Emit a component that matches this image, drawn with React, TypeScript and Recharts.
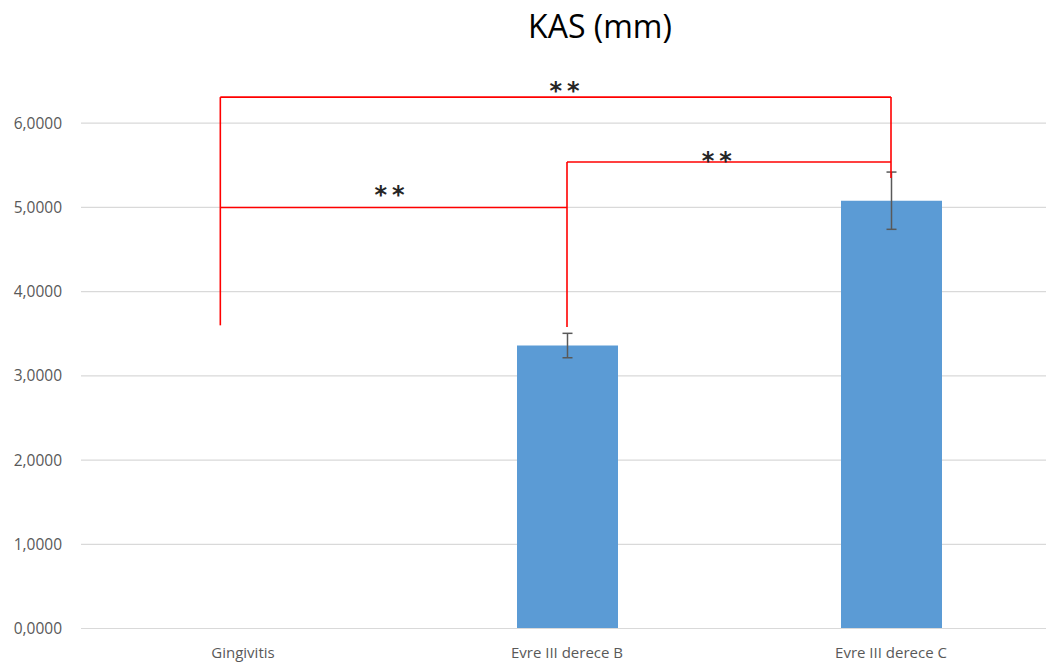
import React from 'react';
import {
  ComposedChart,
  Bar,
  XAxis,
  YAxis,
  CartesianGrid,
  ErrorBar,
  ReferenceLine,
  ReferenceDot,
} from 'recharts';

// Groups on the x axis
const categories = ['Gingivitis', 'Evre III derece B', 'Evre III derece C'];
// Mean KAS per group (mm); Gingivitis has no bar
const means: (number | null)[] = [null, 3.36, 5.08];
// Standard deviation per group
const deviations: (number | null)[] = [null, 0.145, 0.34];
// Y axis tick values
const yTicks = [0, 1, 2, 3, 4, 5, 6];

// Significance brackets as polylines: [group position, value] pairs
const bracketOuter: [number, number][] = [[-0.07, 3.6], [-0.07, 6.31], [2, 6.31], [2, 5.35]];
const bracketGingivitisB: [number, number][] = [[-0.07, 5.0], [1, 5.0]];
const bracketBC: [number, number][] = [[1, 3.58], [1, 5.54], [2, 5.54]];
const brackets = [bracketOuter, bracketGingivitisB, bracketBC];

// Significance markers: [group position, value, text]
const markers: [number, number, string][] = [
  [1.0, 6.45, '**'],
  [0.46, 5.22, '**'],
  [1.47, 5.62, '**'],
];

const data = categories.map((name, i) => ({
  name,
  pos: i,
  mean: means[i],
  sd: deviations[i],
}));

const formatTick = (v: number) => v.toFixed(4).replace('.', ',');

const Stars = (props: any) => {
  const { cx, cy, label } = props;
  return (
    <text
      x={cx}
      y={cy + 14}
      textAnchor="middle"
      fontFamily="DejaVu Sans"
      fontSize={24}
      fontWeight="bold"
      letterSpacing={5}
      fill="#262626"
    >
      {label}
    </text>
  );
};

export default function App() {
  const segments: { a: [number, number]; b: [number, number] }[] = [];
  brackets.forEach((path) => {
    for (let i = 0; i < path.length - 1; i++) {
      segments.push({ a: path[i], b: path[i + 1] });
    }
  });

  return (
    <div style={{ position: 'relative', width: 1046, height: 660 }}>
      <div
        style={{
          position: 'absolute',
          left: 592,
          top: 2,
          transform: 'translateX(-50%)',
          fontFamily: 'Open Sans',
          fontSize: 32,
          lineHeight: 1,
          color: '#000',
          whiteSpace: 'nowrap',
        }}
      >
        KAS (mm)
      </div>
      <ComposedChart
        width={1046}
        height={660}
        data={data}
        margin={{ top: 31, right: 1, bottom: 0, left: 0 }}
        barCategoryGap={0}
      >
        <CartesianGrid
          vertical={false}
          horizontalValues={yTicks}
          stroke="#d9d9d9"
          strokeWidth={1.2}
        />
        <XAxis
          dataKey="name"
          tickLine={false}
          tickSize={0}
          tickMargin={19}
          height={39.5}
          axisLine={{ stroke: '#d9d9d9', strokeWidth: 1.2 }}
          tick={{ fontFamily: 'Open Sans', fontSize: 15, fill: '#595959' }}
        />
        <XAxis
          xAxisId="pos"
          dataKey="pos"
          type="number"
          domain={[-0.5, 2.5]}
          allowDataOverflow
          hide
        />
        <YAxis
          width={73}
          domain={[0, 7]}
          ticks={yTicks}
          tickFormatter={formatTick}
          axisLine={false}
          tickLine={false}
          tickSize={0}
          tickMargin={19}
          tick={{ fontFamily: 'Open Sans', fontSize: 15.5, fill: '#595959' }}
        />
        <Bar dataKey="mean" fill="#5B9BD5" barSize={101} isAnimationActive={false}>
          <ErrorBar dataKey="sd" width={5} stroke="#595959" strokeWidth={1.5} isAnimationActive={false} />
        </Bar>
        {segments.map((s, i) => (
          <ReferenceLine
            key={`seg-${i}`}
            xAxisId="pos"
            segment={[
              { x: s.a[0], y: s.a[1] },
              { x: s.b[0], y: s.b[1] },
            ]}
            stroke="#FF0000"
            strokeWidth={1.6}
            ifOverflow="visible"
          />
        ))}
        {markers.map(([x, y, t], i) => (
          <ReferenceDot
            key={`mk-${i}`}
            xAxisId="pos"
            x={x}
            y={y}
            r={0}
            ifOverflow="visible"
            shape={(p: any) => <Stars {...p} label={t} />}
          />
        ))}
      </ComposedChart>
    </div>
  );
}
